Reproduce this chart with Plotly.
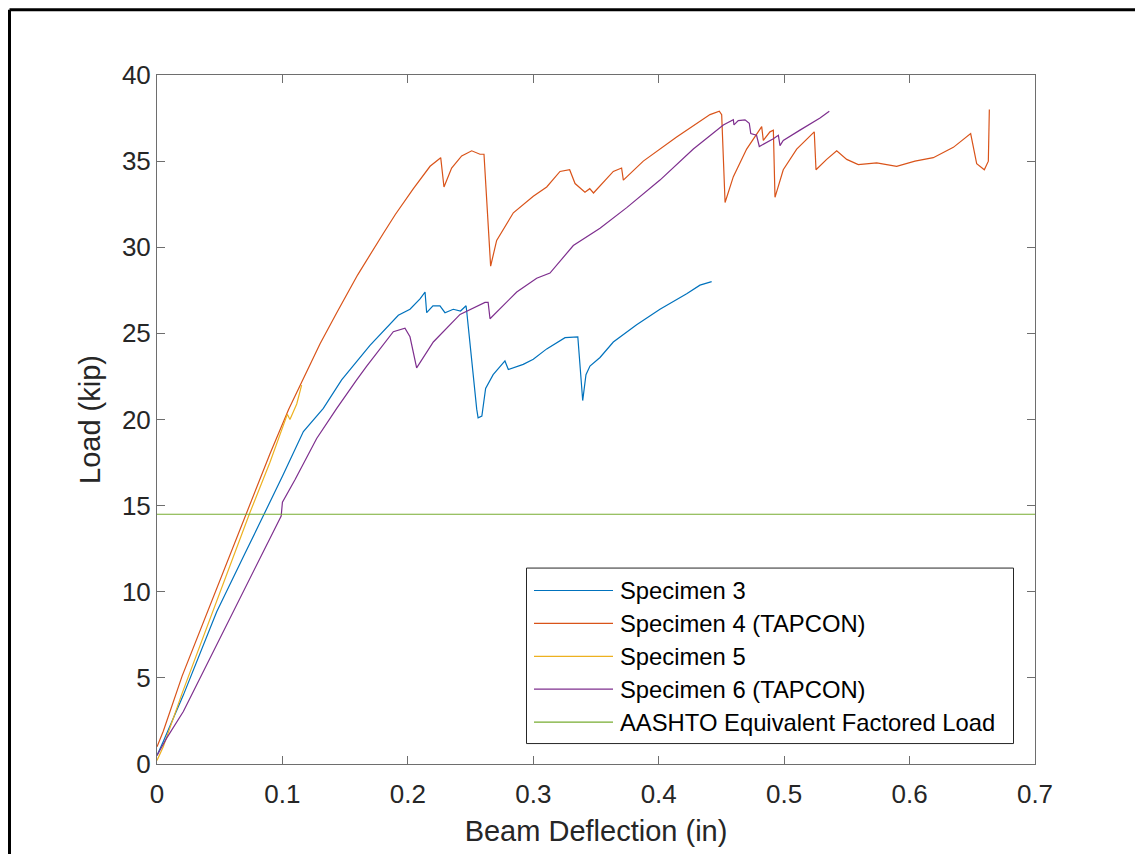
import plotly.graph_objects as go

# ---------------- data ----------------
spec3_x = [0, 0.005, 0.021, 0.0476, 0.07, 0.0861, 0.1, 0.1167, 0.1273, 0.1326, 0.1472, 0.1539,
           0.1698, 0.1924, 0.2017, 0.2097, 0.2137, 0.2150, 0.2200, 0.2256, 0.2296, 0.2362, 0.2420,
           0.2464, 0.2469, 0.2549, 0.2560, 0.2590, 0.2620, 0.2680, 0.2774, 0.2801, 0.2920, 0.3000,
           0.3107, 0.3253, 0.3355, 0.3394, 0.3420, 0.3452, 0.3532, 0.3638, 0.3824, 0.4010, 0.4223,
           0.4329, 0.4422]
spec3_y = [0.5, 1.3, 4.0, 8.84, 12.2, 14.6, 16.7, 19.3, 20.2, 20.65, 22.3, 22.9,
           24.3, 26.05, 26.4, 27.0, 27.4, 26.2, 26.6, 26.6, 26.2, 26.4, 26.3,
           26.6, 26.3, 20.6, 20.1, 20.2, 21.8, 22.6, 23.4, 22.9, 23.2, 23.5,
           24.1, 24.75, 24.8, 21.1, 22.6, 23.1, 23.6, 24.5, 25.5, 26.4, 27.3,
           27.8, 28.0]

spec4_x = [0, 0.005, 0.02, 0.04, 0.06, 0.0715, 0.09, 0.105, 0.1153, 0.13, 0.1433, 0.16, 0.1804,
           0.19, 0.2044, 0.2177, 0.2262, 0.2288, 0.2349, 0.2429, 0.2509, 0.2575, 0.2607, 0.2660,
           0.2708, 0.2841, 0.3000, 0.3107, 0.3213, 0.3290, 0.3333, 0.3412, 0.3450, 0.3480, 0.3638,
           0.3704, 0.3718, 0.3877, 0.4143, 0.4409, 0.4483, 0.4502, 0.4529, 0.4595, 0.4701, 0.4781,
           0.4821, 0.4834, 0.4887, 0.4914, 0.4927, 0.4993, 0.5100, 0.5240, 0.5254, 0.5339, 0.5419,
           0.5499, 0.5591, 0.5738, 0.5897, 0.6043, 0.6189, 0.6349, 0.6487, 0.6535, 0.6596, 0.6628,
           0.6636]
spec4_y = [1.0, 1.9, 5.1, 8.8, 12.5, 14.6, 18.0, 20.6, 22.15, 24.4, 26.2, 28.4, 30.8,
           31.9, 33.4, 34.7, 35.2, 33.5, 34.6, 35.3, 35.6, 35.4, 35.4, 28.9,
           30.4, 32.0, 32.96, 33.5, 34.4, 34.5, 33.7, 33.2, 33.4, 33.15, 34.4,
           34.6, 33.9, 35.0, 36.4, 37.7, 37.9, 37.7, 32.6, 34.1, 35.7, 36.6,
           37.0, 36.2, 36.7, 36.8, 32.9, 34.5, 35.7, 36.7, 34.5, 35.1, 35.6,
           35.1, 34.8, 34.9, 34.7, 35.0, 35.2, 35.8, 36.6, 34.85, 34.5, 35.0,
           38.0]

spec5_x = [0, 0.005, 0.02, 0.04, 0.06, 0.0741, 0.09, 0.1039, 0.1060, 0.1114, 0.1153]
spec5_y = [0.2, 1.0, 4.1, 7.97, 11.85, 14.6, 17.5, 20.3, 20.0, 20.9, 22.0]

spec6_x = [0, 0.0077, 0.021, 0.0476, 0.07, 0.0990, 0.1000, 0.1100, 0.1273, 0.1433, 0.1592, 0.1672,
           0.1884, 0.1977, 0.2017, 0.2070, 0.2203, 0.2416, 0.2615, 0.2640, 0.2655, 0.2868, 0.3027,
           0.3133, 0.3319, 0.3532, 0.3745, 0.4010, 0.4276, 0.4515, 0.4595, 0.4600, 0.4634, 0.4688,
           0.4722, 0.4734, 0.4780, 0.4802, 0.4914, 0.4954, 0.4967, 0.4993, 0.5126, 0.5286, 0.5360]
spec6_y = [0.5, 1.5, 3.05, 6.9, 10.2, 14.4, 15.2, 16.5, 18.9, 20.65, 22.3, 23.1,
           25.1, 25.3, 24.8, 23.0, 24.5, 26.1, 26.8, 26.8, 25.85, 27.4, 28.2,
           28.5, 30.1, 31.1, 32.3, 33.9, 35.7, 37.1, 37.4, 37.1, 37.35, 37.4,
           37.2, 36.6, 36.5, 35.85, 36.3, 36.5, 35.9, 36.2, 36.8, 37.5, 37.9]

aashto_x = [0, 0.7]
aashto_y = [14.5, 14.5]

names = ["Specimen 3", "Specimen 4 (TAPCON)", "Specimen 5", "Specimen 6 (TAPCON)",
         "AASHTO Equivalent Factored Load"]
colors = ["#0072BD", "#D95319", "#EDB120", "#7E2F8E", "#77AC30"]

x_ticks = [0, 0.1, 0.2, 0.3, 0.4, 0.5, 0.6, 0.7]
y_ticks = [0, 5, 10, 15, 20, 25, 30, 35, 40]

# ---------------- figure ----------------
FONT = "Liberation Sans, Arial, Helvetica, sans-serif"
AX = "#262626"
W, H = 1135, 854
ML, MR, MT, MB = 157, 100, 75, 88
PW, PH = W - ML - MR, H - MT - MB


def px_x(p):  # pixel column -> paper x
    return (p - ML) / PW


def px_y(p):  # pixel row -> paper y
    return (H - MB - p) / PH


fig = go.Figure()
series = [(spec3_x, spec3_y), (spec4_x, spec4_y), (spec5_x, spec5_y),
          (spec6_x, spec6_y), (aashto_x, aashto_y)]
for (xs, ys), nm, col in zip(series, names, colors):
    fig.add_trace(go.Scatter(x=xs, y=ys, mode="lines", name=nm, showlegend=False,
                             line=dict(color=col, width=1.2)))

axis_common = dict(showgrid=False, zeroline=False, showline=True, linecolor="#6e6e6e",
                   linewidth=1, mirror="ticks", ticks="inside", ticklen=8, tickwidth=1,
                   tickcolor="#6e6e6e", tickfont=dict(family=FONT, size=26, color=AX),
                   showspikes=False)

# legend box drawn in the MATLAB style (long line samples)
shapes = [
    dict(type="line", xref="paper", yref="paper", x0=px_x(9.5), x1=px_x(1140),
         y0=px_y(9.5), y1=px_y(9.5), line=dict(color="black", width=3)),
    dict(type="line", xref="paper", yref="paper", x0=px_x(9.5), x1=px_x(9.5),
         y0=px_y(9.5), y1=px_y(860), line=dict(color="black", width=3)),
    dict(type="rect", xref="paper", yref="paper", x0=px_x(526.5), x1=px_x(1013.5),
         y0=px_y(745.5), y1=px_y(569.5), line=dict(color=AX, width=1), fillcolor="white",
         layer="above"),
]
annotations = []
row_y = [592, 625, 658, 691, 724]
for nm, col, ry in zip(names, colors, row_y):
    shapes.append(dict(type="line", xref="paper", yref="paper", x0=px_x(534), x1=px_x(613),
                       y0=px_y(ry), y1=px_y(ry), line=dict(color=col, width=1.2),
                       layer="above"))
    annotations.append(dict(text=nm, xref="paper", yref="paper", x=px_x(620), y=px_y(ry),
                            xanchor="left", yanchor="middle", showarrow=False,
                            borderpad=0, borderwidth=0,
                            font=dict(family=FONT, size=23.8, color="black")))

fig.update_layout(
    width=W, height=H,
    margin=dict(l=ML, r=MR, t=MT, b=MB),
    paper_bgcolor="white", plot_bgcolor="white",
    font=dict(family=FONT, color=AX),
    showlegend=False,
    hovermode=False,
    xaxis=dict(range=[0, 0.7], tickvals=x_ticks, ticktext=[str(v) for v in x_ticks],
               ticklabelstandoff=7,
               title=dict(text="Beam Deflection (in)", font=dict(family=FONT, size=29, color=AX),
                          standoff=12),
               **axis_common),
    yaxis=dict(range=[0, 40], tickvals=y_ticks, ticktext=[str(v) for v in y_ticks],
               title=dict(text="Load (kip)", font=dict(family=FONT, size=29, color=AX),
                          standoff=12),
               **axis_common),
    shapes=shapes,
    annotations=annotations,
)

fig.write_html("out.html")
